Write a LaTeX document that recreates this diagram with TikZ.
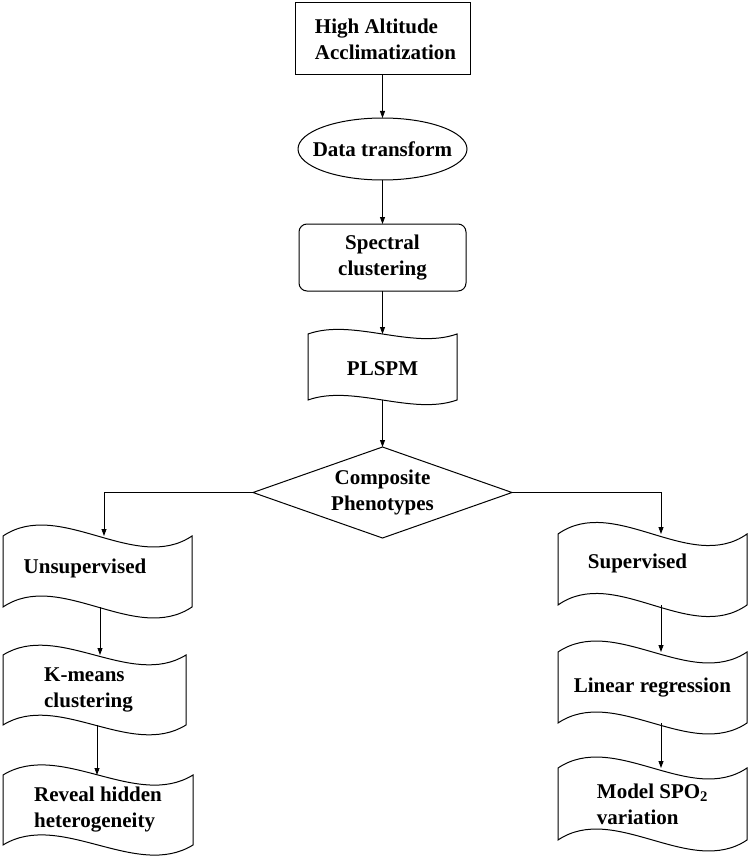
\documentclass[tikz,border=0pt]{standalone}
\usepackage{fontspec}
\setmainfont{Liberation Serif}
\usetikzlibrary{calc,arrows.meta}
\newcommand\wavepath[2]{%
  \draw[outline] (#1.north west) .. controls ($(#1.north west)!0.3!(#1.north east)+(0,-#2)$) and ($(#1.north west)!0.7!(#1.north east)+(0,#2)$) .. (#1.north east)
    -- (#1.south east) .. controls ($(#1.south west)!0.7!(#1.south east)+(0,#2)$) and ($(#1.south west)!0.3!(#1.south east)+(0,-#2)$) .. (#1.south west) -- cycle;}
\begin{document}
\begin{tikzpicture}[x=1pt,y=-1pt,
  font=\bfseries\fontsize{21}{26}\selectfont,
  base/.style={inner sep=0pt, outer sep=0pt, align=left},
  plainbox/.style={base, draw, line width=1pt},
  roundbox/.style={base, draw, line width=1pt, rounded corners=8pt, align=center},
  ghost/.style={base},
  outline/.style={line width=1pt},
  arr/.style={line width=0.8pt, -{Triangle[length=7pt,width=5pt]}}]
\useasboundingbox (0,0) rectangle (749,861);

% nodes
\node[plainbox, minimum width=175pt, minimum height=72pt] (top) at (382.5,39) {\hspace*{6pt}High Altitude\\\hspace*{6pt}Acclimatization};
\node[ghost, minimum width=169pt, minimum height=62pt] (dt) at (382.5,149) {Data transform};
\node[roundbox, minimum width=167pt, minimum height=67pt] (sc) at (382.5,257.5) {Spectral\\clustering};
\node[ghost, minimum width=149pt, minimum height=66pt] (pl) at (382.5,367) {\raisebox{-2pt}[\height][\depth]{PLSPM}};
\node[ghost, align=center, minimum width=259pt, minimum height=91pt] (cp) at (382.5,492.5) {Composite\\Phenotypes};
\node[ghost, minimum width=189pt, minimum height=71pt] (uns) at (97.5,571.5) {\raisebox{3pt}[\height][\depth]{Unsupervised}\hspace*{25pt}};
\node[ghost, minimum width=183pt, minimum height=70pt] (km) at (94.5,690) {K-means\\clustering\hspace*{12pt}};
\node[ghost, minimum width=190pt, minimum height=70pt] (rv) at (98,810) {Reveal hidden\\heterogeneity};
\node[ghost, minimum width=189pt, minimum height=71pt] (sup) at (652.5,569.5) {\raisebox{6pt}[\height][\depth]{Supervised}\hspace*{30pt}};
\node[ghost, minimum width=189pt, minimum height=71pt] (lin) at (652.5,687.5) {Linear regression};
\node[ghost, minimum width=189pt, minimum height=72pt] (mod) at (652.5,804) {Model SPO\textsubscript{2}\\variation};

% shapes
\draw[outline] (dt.center) ellipse [x radius=84.5, y radius=31];
\draw[outline] (cp.north) -- (cp.east) -- (cp.south) -- (cp.west) -- cycle;
\wavepath{pl}{16}
\wavepath{uns}{38}
\wavepath{km}{34}
\wavepath{rv}{35}
\wavepath{sup}{40}
\wavepath{lin}{38}
\wavepath{mod}{38}

% helper coordinates for connector columns
\coordinate (lx) at (104,0);
\coordinate (la) at (100,0);
\coordinate (lb) at (97,0);
\coordinate (rx) at (661,0);

% connectors
\draw[arr] (top.south) -- (dt.north);
\draw[arr] (dt.south) -- (sc.north);
\draw[arr] (sc.south) -- (pl.north);
\draw[arr] (pl.south) -- (cp.north);
\draw[arr] (cp.west) -| (lx |- uns.north);
\draw[arr] (cp.east) -| (rx |- sup.north);
\draw[arr] (la |- uns.south) -- (la |- km.north);
\draw[arr] (lb |- km.south) -- (lb |- rv.north);
\draw[arr] (rx |- sup.south) -- (rx |- lin.north);
\draw[arr] (rx |- lin.south) -- (rx |- mod.north);
\end{tikzpicture}
\end{document}
